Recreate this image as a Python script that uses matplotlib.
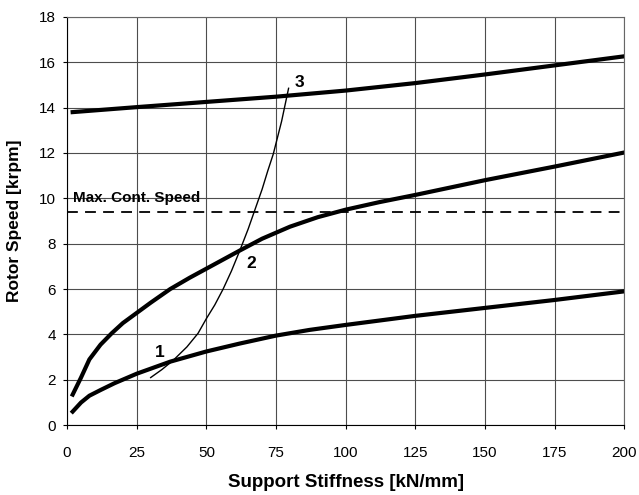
import matplotlib.pyplot as plt

plt.rcParams['font.family'] = ['Liberation Sans', 'DejaVu Sans']

# mode curves (stiffness kN/mm -> speed krpm)
mode1_x = [2, 5, 8, 12, 17, 25, 37, 50, 62, 75, 87, 100, 125, 150, 175, 200]
mode1_y = [0.6, 1.0, 1.3, 1.55, 1.85, 2.27, 2.8, 3.25, 3.6, 3.95, 4.2, 4.42, 4.82, 5.17, 5.52, 5.9]

mode2_x = [2, 5, 8, 12, 16, 20, 25, 30, 37, 44, 50, 56, 62, 70, 80, 90, 100, 112, 125, 150, 175, 200]
mode2_y = [1.35, 2.1, 2.9, 3.55, 4.05, 4.5, 4.95, 5.4, 6.0, 6.5, 6.9, 7.3, 7.7, 8.22, 8.75, 9.17, 9.5,
           9.83, 10.15, 10.8, 11.4, 12.02]

mode3_x = [2, 25, 50, 75, 100, 125, 150, 175, 200]
mode3_y = [13.8, 14.02, 14.25, 14.48, 14.75, 15.08, 15.46, 15.86, 16.26]

thin_x = [30, 34, 38, 43, 47, 50, 53, 56, 59, 62, 65, 67, 70, 72, 74, 77, 79.5]
thin_y = [2.1, 2.45, 2.85, 3.45, 4.05, 4.7, 5.3, 6.0, 6.8, 7.7, 8.65, 9.35, 10.4, 11.2, 11.95, 13.4, 14.85]

max_cont_speed = 9.4

fig = plt.figure(figsize=(6.39, 4.95), dpi=100)
ax = fig.add_axes([0.105, 0.141, 0.872, 0.825])

ax.plot(mode1_x, mode1_y, color='black', lw=3)
ax.plot(mode2_x, mode2_y, color='black', lw=3)
ax.plot(mode3_x, mode3_y, color='black', lw=3)
ax.plot(thin_x, thin_y, color='black', lw=1)
ax.axhline(max_cont_speed, color='black', lw=1.3, dashes=(6, 4))

ax.text(2, 9.85, 'Max. Cont. Speed', fontsize=11, fontweight='bold')
ax.text(31.5, 3.0, '1', fontsize=12.5, fontweight='bold')
ax.text(64.5, 6.95, '2', fontsize=12.5, fontweight='bold')
ax.text(81.5, 14.9, '3', fontsize=12.5, fontweight='bold')

ax.set_xlim(0, 200)
ax.set_ylim(0, 18)
ax.set_xticks(range(0, 201, 25))
ax.set_yticks(range(0, 19, 2))
ax.grid(True, color='0.3', lw=0.8)
ax.tick_params(labelsize=11, length=3, direction='out')
ax.tick_params(axis='x', pad=12)
ax.tick_params(axis='y', pad=5)
for s in ['top', 'right']:
    ax.spines[s].set_color('0.4')
    ax.spines[s].set_linewidth(0.8)

ax.set_xlabel('Support Stiffness [kN/mm]', fontsize=13.5, fontweight='bold', labelpad=10)
ax.set_ylabel('Rotor Speed [krpm]', fontsize=12.5, fontweight='bold', labelpad=12)

plt.savefig('out.png', dpi=100)
